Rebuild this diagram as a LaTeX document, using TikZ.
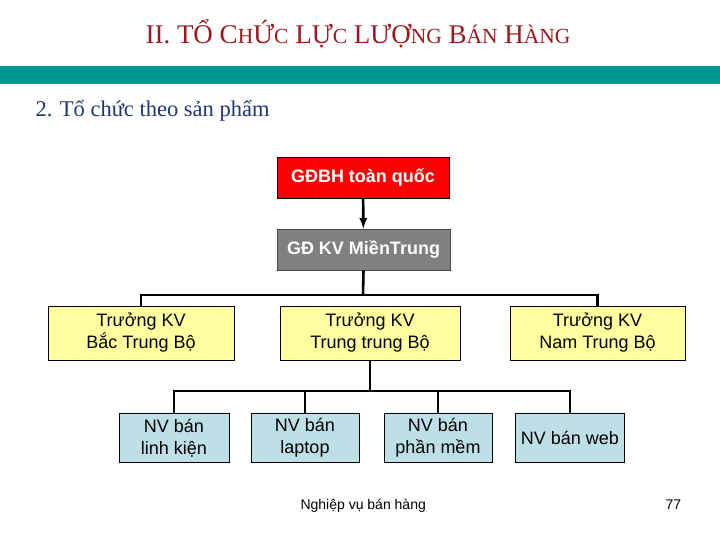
\documentclass[tikz,border=0pt]{standalone}
\usepackage{fontspec}
\setmainfont{Liberation Serif}
\newfontfamily\arial{Liberation Sans}
\usetikzlibrary{positioning}

\definecolor{titlered}{RGB}{155,25,30}
\definecolor{barteal}{RGB}{0,150,145}
\definecolor{subblue}{RGB}{30,55,120}
\definecolor{boxred}{RGB}{255,0,0}
\definecolor{boxgray}{RGB}{128,128,128}
\definecolor{boxyellow}{RGB}{255,255,160}
\definecolor{boxblue}{RGB}{188,224,230}

\newcommand\smallcap[1]{{\fontsize{21.5}{21.5}\selectfont #1}}

\tikzset{
    box/.style={draw=black, line width=0.6pt, inner sep=0pt, align=center,
        font=\arial\fontsize{18}{22}\selectfont},
    topbox/.style={box, minimum height=41pt, text=white,
        font=\arial\bfseries\fontsize{18}{22}\selectfont},
    leadbox/.style={box, fill=boxyellow, minimum height=54pt},
    staffbox/.style={box, fill=boxblue, minimum height=49pt},
    link/.style={line width=2.6pt, black}
}

\begin{document}
\begin{tikzpicture}[x=1pt, y=-1pt]
    \useasboundingbox (0,0) rectangle (720,540);

    % heading
    \node[anchor=base, text=titlered, font=\fontsize{27}{27}\selectfont] (title) at (358,44)
        {II. TỔ C\smallcap{H}Ứ\smallcap{C} LỰ\smallcap{C} LƯỢ\smallcap{NG} B\smallcap{ÁN} H\smallcap{ÀNG}};
    \fill[barteal] (0,66) rectangle (720,84);
    \node[anchor=base west, text=subblue, font=\fontsize{22.5}{22.5}\selectfont] (subtitle) at (32,117)
        {2. Tổ chức theo sản phẩm};

    % boxes
    \node[topbox, fill=boxred, minimum width=172pt] (gdbh) at (363,177.5) {GĐBH toàn quốc};
    \node[topbox, fill=boxgray, draw=black!70, minimum width=173pt] (gdkv) at (363.5,249.5) {GĐ KV MiềnTrung};

    \node[leadbox, minimum width=186pt] (bac) at (141,333) {Trưởng KV\\Bắc Trung Bộ};
    \node[leadbox, minimum width=180pt] (trung) at (370,333) {Trưởng KV\\Trung trung Bộ};
    \node[leadbox, minimum width=175pt] (nam) at (597.5,333) {Trưởng KV\\Nam Trung Bộ};

    \node[staffbox, minimum width=110pt] (linhkien) at (174,438) {NV bán\\linh kiện};
    \node[staffbox, minimum width=108pt] (laptop) at (305,438) {NV bán\\laptop};
    \node[staffbox, minimum width=108pt] (phanmem) at (438,438) {NV bán\\phần mềm};
    \node[staffbox, minimum width=109pt] (web) at (570,438) {NV bán web};

    % connectors
    \coordinate (bus2) at (363,295);
    \coordinate (bus3) at (370,391);
    \draw[link, -latex] (gdbh) -- (gdkv);
    \draw[link] (gdkv.south) -- (bus2);
    \draw[link] (bac.north) |- (bus2 -| nam.north) -- (nam.north);
    \draw[link] (trung.south) -- (bus3);
    \draw[link] (linhkien.north) |- (bus3 -| web.north) -- (web.north);
    \draw[link] (laptop.north) -- (laptop.north |- bus3);
    \draw[link] (phanmem.north) -- (phanmem.north |- bus3);

    % footer
    \node[anchor=base west, font=\arial\fontsize{14}{14}\selectfont] (footer) at (297,509) {Nghiệp vụ bán hàng};
    \node[anchor=base west, font=\arial\fontsize{14}{14}\selectfont] (page) at (662,509) {77};
\end{tikzpicture}
\end{document}
